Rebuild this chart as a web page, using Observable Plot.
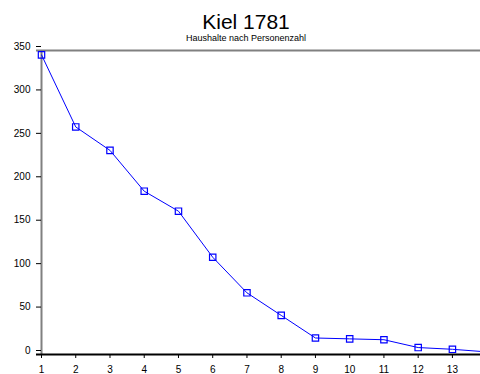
<!DOCTYPE html>
<html>
<head>
<meta charset="utf-8">
<script src="https://cdn.jsdelivr.net/npm/d3@7"></script>
<script src="https://cdn.jsdelivr.net/npm/@observablehq/plot@0.6"></script>
<style>
  html, body { margin: 0; padding: 0; background: #fff; }
  #wrap { position: relative; width: 480px; height: 374px; font-family: "Liberation Sans", Arial, sans-serif; }
  #head { position: relative; width: 480px; height: 40px; }
  .t { position: absolute; left: 0; width: 492px; text-align: center; color: #000; white-space: nowrap; }
  #title { top: 11px; font-size: 21px; line-height: 21px; }
  #subtitle { top: 34px; font-size: 9px; line-height: 9px; }
  svg { display: block; }
</style>
</head>
<body>
<div id="wrap">
  <div id="head">
    <div class="t" id="title">Kiel 1781</div>
    <div class="t" id="subtitle">Haushalte nach Personenzahl</div>
  </div>
  <div id="chart"></div>
</div>
<script>
const personen = [1, 2, 3, 4, 5, 6, 7, 8, 9, 10, 11, 12, 13, 14];
const haushalte = [345, 262, 235, 188, 165, 112, 71, 45, 19, 18, 17, 8, 6, 3];
const xTicks = [1, 2, 3, 4, 5, 6, 7, 8, 9, 10, 11, 12, 13];
const yTicks = [0, 50, 100, 150, 200, 250, 300, 350];

const data = personen.map((p, i) => ({p, n: haushalte[i]}));
const blue = "#0000ff";

const chart = Plot.plot({
  width: 480,
  height: 334,
  marginTop: 10,
  marginLeft: 41,
  marginRight: 0,
  marginBottom: 20,
  style: {fontFamily: "'Liberation Sans', Arial, sans-serif", fontSize: "10px", color: "#000", background: "#fff", overflow: "visible"},
  x: {domain: [1, 13.82]},
  y: {domain: [0, 350]},
  marks: [
    Plot.ruleY([350], {stroke: "#808080", strokeWidth: 2, insetLeft: -5}),
    Plot.ruleX([1], {stroke: "#808080", strokeWidth: 2}),
    Plot.axisY({ticks: yTicks, tickSize: 5, tickPadding: 6, dy: -4, stroke: "#000", label: null, fontSize: 10}),
    Plot.axisX({ticks: xTicks, tickSize: 4, tickPadding: 7, stroke: "#000", label: null, fontSize: 10, tickFormat: d => String(d)}),
    Plot.ruleY([0], {stroke: "#000", strokeWidth: 2, insetLeft: -5}),
    Plot.line(data, {x: "p", y: "n", stroke: blue, strokeWidth: 1, clip: true}),
    Plot.dot(data.filter(d => d.p <= 13), {x: "p", y: "n", symbol: "square", r: 3.6, stroke: blue, strokeWidth: 1.2, fill: "none"})
  ]
});
document.getElementById("chart").appendChild(chart);
</script>
</body>
</html>
